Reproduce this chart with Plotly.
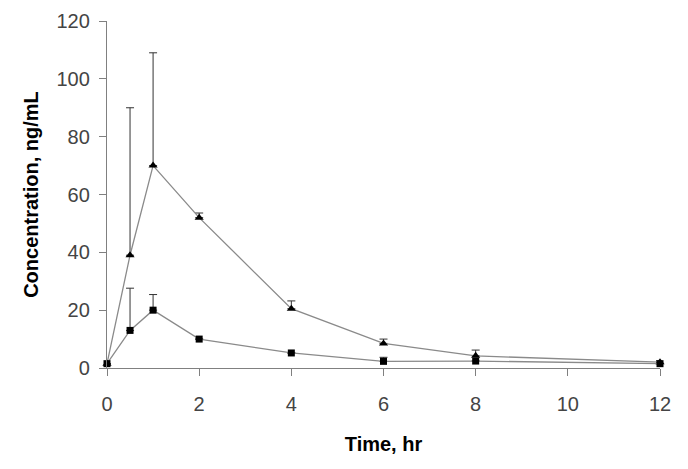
import plotly.graph_objects as go

# datos
tiempo = [0, 0.5, 1, 2, 4, 6, 8, 12]

conc_triangulo = [1.5, 39, 70, 52, 20.5, 8.5, 4.2, 2.0]
err_triangulo = [0, 51, 39, 1.6, 2.7, 1.5, 2.0, 0.5]

conc_cuadrado = [1.5, 13, 20, 10, 5.2, 2.3, 2.4, 1.5]
err_cuadrado = [0, 14.6, 5.4, 0, 0, 1.4, 0, 0]

ticks_x = [0, 2, 4, 6, 8, 10, 12]
ticks_y = [0, 20, 40, 60, 80, 100, 120]

color_linea = "#8a8a8a"
color_eje = "#808080"
fuente = "Liberation Sans, Arial, sans-serif"

fig = go.Figure()

for conc, err, simbolo, tam in [
    (conc_triangulo, err_triangulo, "triangle-up", 8),
    (conc_cuadrado, err_cuadrado, "square", 7),
]:
    fig.add_trace(go.Scatter(
        x=tiempo,
        y=conc,
        mode="lines+markers",
        line=dict(color=color_linea, width=1.3),
        marker=dict(symbol=simbolo, size=tam, color="black"),
        error_y=dict(
            type="data",
            symmetric=False,
            array=err,
            arrayminus=[0] * len(err),
            color="#333333",
            thickness=1,
            width=4,
        ),
        cliponaxis=False,
        showlegend=False,
    ))

# la página añade 8 px de margen al cuerpo, se descuentan aquí
fig.update_layout(
    width=688,
    height=469,
    margin=dict(l=99, r=36, t=13, b=109),
    plot_bgcolor="white",
    paper_bgcolor="white",
    font=dict(family=fuente, size=20, color="#444444"),
)

fig.update_xaxes(
    range=[0, 12],
    tickvals=ticks_x,
    ticks="outside",
    ticklen=7,
    tickcolor=color_eje,
    showline=True,
    linecolor=color_eje,
    linewidth=1.3,
    showgrid=False,
    zeroline=False,
    automargin=False,
    ticklabelstandoff=11,
    title=dict(text="<b>Time, hr</b>", font=dict(size=20, color="black"), standoff=22),
)

fig.update_yaxes(
    range=[0, 120],
    tickvals=ticks_y,
    ticks="outside",
    ticklen=7,
    tickcolor=color_eje,
    showline=True,
    linecolor=color_eje,
    linewidth=1.3,
    showgrid=False,
    zeroline=False,
    automargin=False,
    ticklabelstandoff=5,
    title=dict(text="<b>Concentration, ng/mL</b>", font=dict(size=20, color="black"), standoff=12),
)

fig.write_html("out.html")
